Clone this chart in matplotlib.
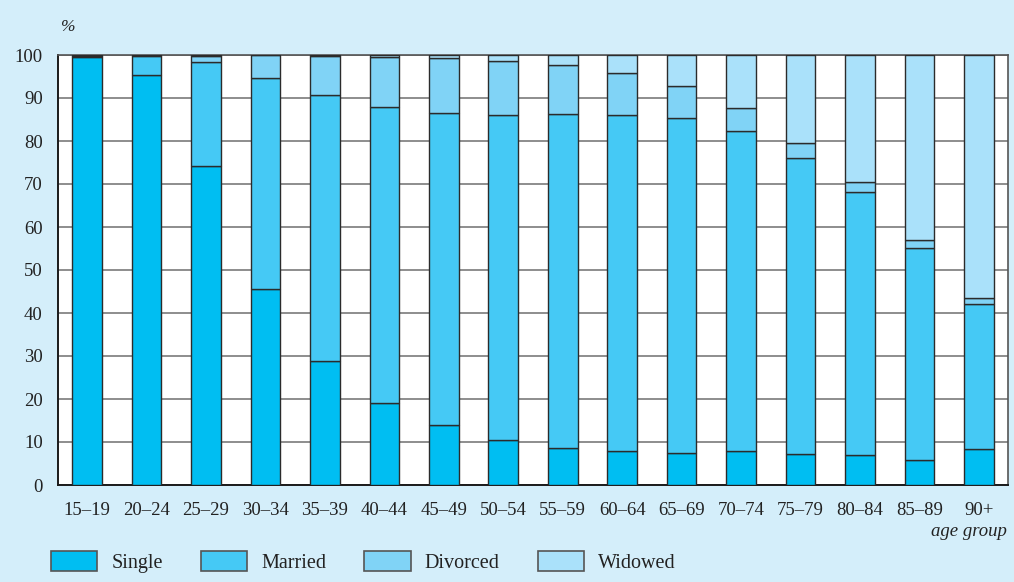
import matplotlib
matplotlib.use("Agg")
import matplotlib.pyplot as plt
import numpy as np

# Age groups and marital status shares (% of each age group)
age_groups = ["15–19", "20–24", "25–29", "30–34", "35–39", "40–44", "45–49", "50–54",
              "55–59", "60–64", "65–69", "70–74", "75–79", "80–84", "85–89", "90+"]
single = [99.6, 95.3, 74.2, 45.6, 28.8, 19.1, 14.0, 10.4, 8.6, 7.8, 7.5, 7.8, 7.1, 6.9, 5.9, 8.4]
married = [0.2, 4.5, 24.2, 49.1, 62.0, 68.8, 72.4, 75.7, 77.7, 78.3, 77.9, 74.6, 68.9, 61.2, 49.2, 33.6]
divorced = [0.1, 0.1, 1.3, 5.2, 9.0, 11.7, 12.8, 12.5, 11.4, 9.6, 7.5, 5.3, 3.5, 2.4, 1.9, 1.6]
widowed = [0.1, 0.1, 0.3, 0.1, 0.2, 0.4, 0.8, 1.4, 2.3, 4.3, 7.1, 12.3, 20.5, 29.5, 43.0, 56.4]

status_labels = ["Single", "Married", "Divorced", "Widowed"]
status_colors = ["#00BEF2", "#45C9F5", "#80D3F6", "#AAE1FA"]
y_ticks = list(range(0, 101, 10))

plt.rcParams["font.family"] = ["Liberation Serif", "DejaVu Serif"]
FS = 13.5
LEG_FS = 14.5
bg = "#D4EEFA"

fig = plt.figure(figsize=(10.14, 5.82), dpi=100, facecolor=bg)
ax = fig.add_axes([58 / 1014, 1 - 485 / 582, (1008 - 58) / 1014, (485 - 55) / 582])
ax.set_facecolor("white")

x = np.arange(len(age_groups))
bottom = np.zeros(len(age_groups))
for vals, lab, col in zip([single, married, divorced, widowed], status_labels, status_colors):
    vals = np.asarray(vals)
    ax.bar(x, vals, width=0.5, bottom=bottom, color=col, edgecolor="#2b2b2b",
           linewidth=1.0, label=lab, zorder=3)
    bottom += vals

ax.set_xlim(-0.49, len(age_groups) - 0.51)
ax.set_ylim(0, 100)
ax.set_yticks(y_ticks)
ax.set_xticks(x)
ax.set_xticklabels(age_groups)
ax.tick_params(axis="both", length=0, labelsize=FS, colors="#222222")
ax.tick_params(axis="y", pad=11)
ax.tick_params(axis="x", pad=12)
ax.yaxis.grid(True, color="#7a7a7a", linewidth=1.2, zorder=0)
ax.set_axisbelow(True)
for side in ["top", "right"]:
    ax.spines[side].set_color("#555555")
    ax.spines[side].set_linewidth(1.2)
for side in ["left", "bottom"]:
    ax.spines[side].set_color("#1a1a1a")
    ax.spines[side].set_linewidth(1.4)

fig.text(61 / 1014, 1 - 27 / 582, "%", fontsize=FS - 1, style="italic",
         ha="left", va="center", color="#222222")
fig.text(1007 / 1014, 1 - 531 / 582, "age group", fontsize=FS, style="italic",
         ha="right", va="center", color="#222222")

handles, labels = ax.get_legend_handles_labels()
leg = fig.legend(handles, labels, ncol=4, loc="center left",
                 bbox_to_anchor=(51 / 1014, 1 - 562 / 582),
                 frameon=False, fontsize=LEG_FS, borderpad=0, borderaxespad=0,
                 handlelength=2.29, handleheight=1.14, handletextpad=0.7,
                 columnspacing=1.9)
for h in leg.legend_handles:
    h.set_edgecolor("#555555")
    h.set_linewidth(1.2)
for t in leg.get_texts():
    t.set_color("#222222")

fig.savefig("out.png", dpi=100, facecolor=bg)
